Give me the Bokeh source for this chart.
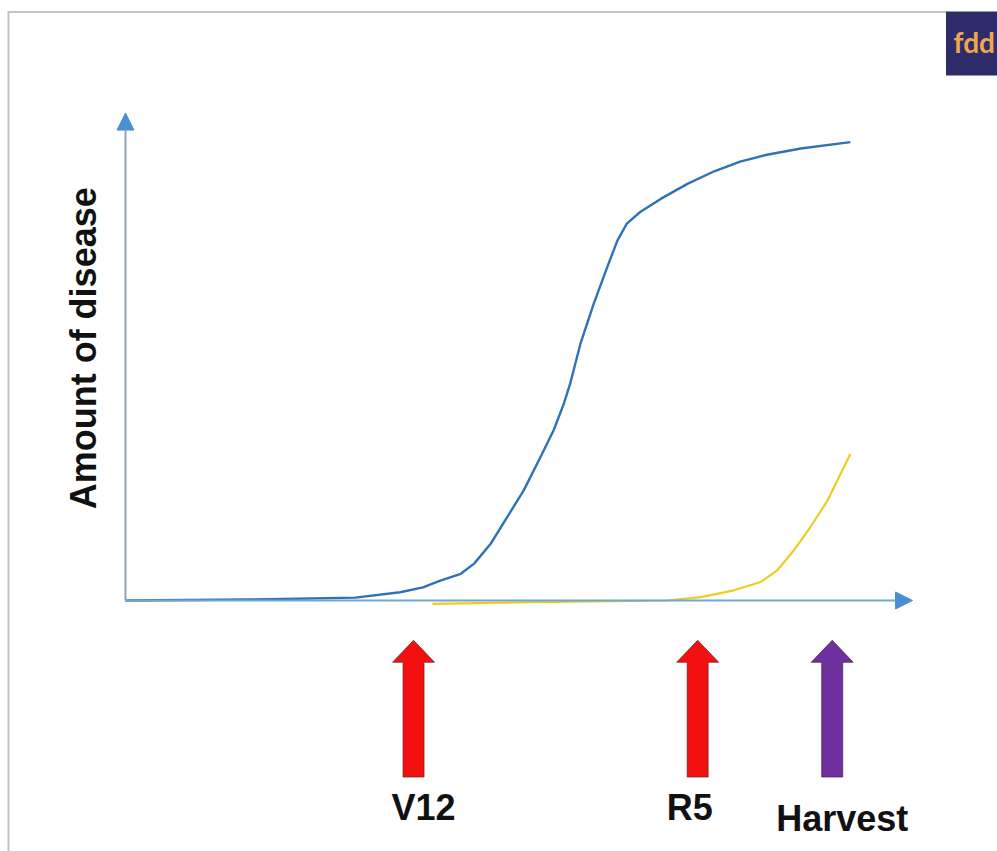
import math
from bokeh.plotting import figure
from bokeh.models import Arrow, NormalHead, Range1d, ColumnDataSource
from bokeh.core.properties import value
from bokeh.embed import file_html
from bokeh.resources import INLINE

# ---- data (time 0..100, amount of disease 0..100) ----
early_time = [0, 15.9, 29.2, 34.9, 37.8, 40.0, 42.6, 44.3, 46.4, 48.5, 50.6, 52.7, 54.4,
              55.7, 56.5, 57.8, 59.5, 61.2, 62.5, 63.7, 65.4, 68.0, 71.4, 74.8, 78.1,
              81.5, 85.8, 92.1]
early_disease = [0, 0.2, 0.6, 1.7, 2.7, 4.1, 5.5, 7.6, 11.7, 17.2, 22.7, 29.5, 35.1,
                 40.6, 44.7, 52.9, 61.2, 68.7, 74.2, 77.7, 80.1, 82.8, 85.9, 88.5, 90.5,
                 91.9, 93.2, 94.5]
late_time = [39.0, 51.9, 68.8, 73.1, 77.3, 80.7, 82.8, 84.9, 87.0, 89.2, 92.1]
late_disease = [-0.7, -0.35, 0, 0.7, 2.1, 3.8, 6.2, 10.3, 15.1, 20.6, 30.2]

event_labels = ["V12", "R5", "Harvest"]
event_time = [36.6, 72.7, 89.8]
event_colors = ["#f21010", "#f21010", "#7030a0"]
event_outline = ["#5a2a2a", "#5a2a2a", "#3a2050"]
label_dx = [10, -8, 10]
label_y = [-42.7, -42.7, -44.9]

W, H = 997, 851
ppx, ppy = 7.87, 4.85          # pixels per data unit
X0 = -125 / ppx
X1 = X0 + W / ppx
Y1 = 100 + 115 / ppy
Y0 = Y1 - H / ppy

def px(x):   # page pixel -> data x (for decorations only)
    return X0 + x / ppx

def py(y):   # page pixel -> data y (for decorations only)
    return Y1 - y / ppy

p = figure(width=W, height=H, output_backend="svg", toolbar_location=None,
           x_range=Range1d(X0, X1), y_range=Range1d(Y0, Y1),
           x_axis_location=None, y_axis_location=None, min_border=0,
           background_fill_color="white", border_fill_color="white")
p.xgrid.visible = False
p.ygrid.visible = False
p.outline_line_color = None

# frame border (top + left)
p.line([px(7), px(946)], [py(11.5)] * 2, line_color="#c4c4c4", line_width=2)
p.line([px(8)] * 2, [py(11.5), py(851)], line_color="#c4c4c4", line_width=2)

# logo
p.quad(left=[px(945.5)], right=[px(1000)], top=[py(11)], bottom=[py(75)],
       fill_color="#2e2c6a", line_color=None)
p.text(x=[px(953)], y=[py(41)], text=["fdd"],
       text_font=value("Lato"), text_font_style="bold", text_font_size="28px",
       text_color="#f2a64c", text_baseline="alphabetic")

# axes with arrowheads
p.add_layout(Arrow(x_start=0, y_start=0, x_end=100, y_end=0, line_color="#6fa6d6", line_width=2,
                   end=NormalHead(size=17, fill_color="#4a8fd4", line_color="#4a8fd4")))
p.add_layout(Arrow(x_start=0, y_start=0, x_end=0, y_end=100.5, line_color="#8fa2b4", line_width=2,
                   end=NormalHead(size=17, fill_color="#4a8fd4", line_color="#4a8fd4")))

# curves
p.line(late_time, late_disease, line_color="#e8d020", line_width=2.2)
p.line(early_time, early_disease, line_color="#2f72b6", line_width=2.4, line_join="round")

# y-axis title
p.text(x=[-5.3], y=[52.0], text=["Amount of disease"], angle=math.pi / 2,
       text_font=value("Liberation Sans"), text_font_style="bold", text_font_size="36px",
       text_color="#111111", text_align="center", text_baseline="middle")

# event arrows
tip, bottom = -8.2, -36.4
head_len = 22 / ppy
hw = 21 / ppx
sw = 10.5 / ppx
xs, ys = [], []
for t in event_time:
    xs.append([t - sw, t - sw, t - hw, t, t + hw, t + sw, t + sw])
    ys.append([bottom, tip - head_len, tip - head_len, tip, tip - head_len, tip - head_len, bottom])
p.patches(xs, ys, fill_color=event_colors, line_color=event_outline, line_width=1, line_alpha=0.7)

src = ColumnDataSource(dict(x=event_time, y=label_y, text=event_labels, dx=label_dx))
p.text(x="x", y="y", text="text", x_offset="dx", source=src,
       text_font=value("Liberation Sans"), text_font_style="bold", text_font_size="36px",
       text_color="#111111", text_align="center", text_baseline="alphabetic")

open("out.html", "w").write(file_html(p, INLINE))
